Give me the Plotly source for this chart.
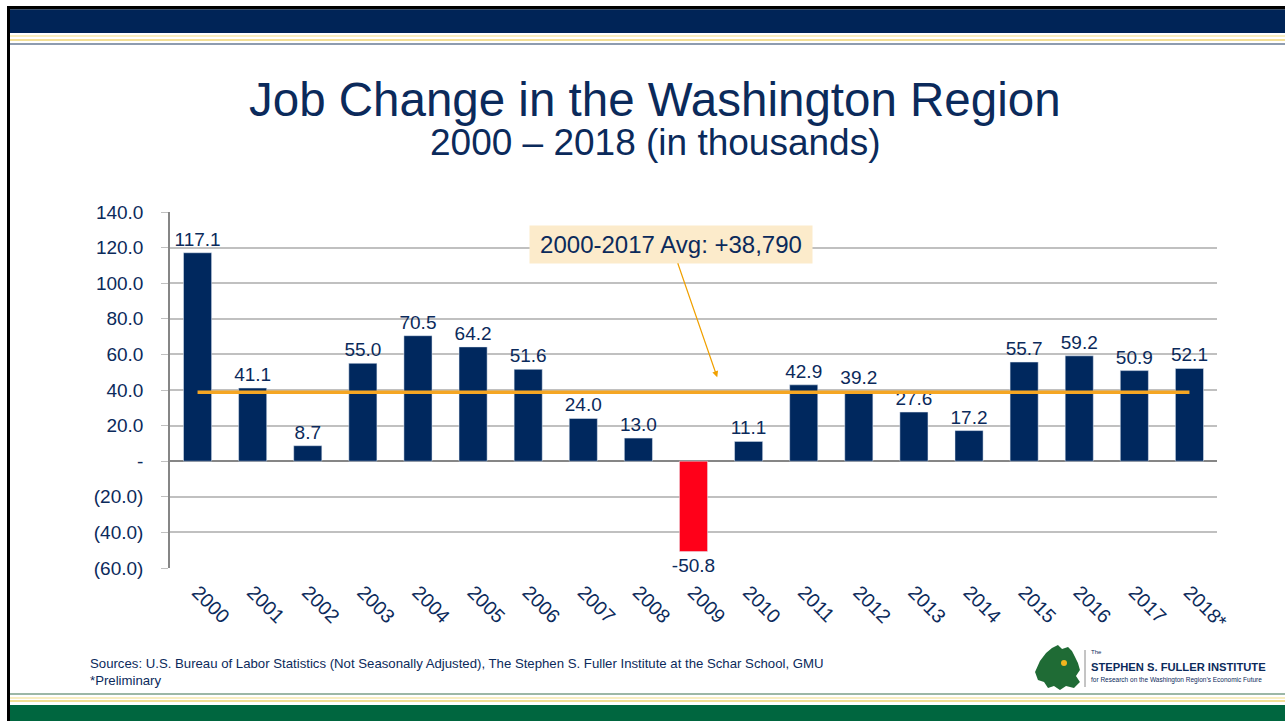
import plotly.graph_objects as go

years = ['2000', '2001', '2002', '2003', '2004', '2005', '2006', '2007', '2008', '2009',
         '2010', '2011', '2012', '2013', '2014', '2015', '2016', '2017', '2018*']
job_change = [117.1, 41.1, 8.7, 55.0, 70.5, 64.2, 51.6, 24.0, 13.0, -50.8,
              11.1, 42.9, 39.2, 27.6, 17.2, 55.7, 59.2, 50.9, 52.1]
avg_2000_2017 = 38.79
avg_label = '2000-2017 Avg: +38,790'
y_ticks = [-60, -40, -20, 0, 20, 40, 60, 80, 100, 120, 140]
y_tick_labels = ['(60.0)', '(40.0)', '(20.0)', '-', '20.0', '40.0', '60.0', '80.0', '100.0', '120.0', '140.0']

NAVY = '#0B2A5B'
BAR = '#00285E'
RED = '#FF0019'
ORANGE = '#F5A623'
FONT = 'Liberation Sans'

W, H = 1285, 721
L, R, T, B = 170, 1217, 212, 568


def fx(px):
    return (px - L) / (R - L)


def fy(py):
    return (B - py) / (B - T)


def band(x0, y0, x1, y1, color):
    return dict(type='rect', xref='paper', yref='paper', x0=fx(x0), x1=fx(x1),
                y0=fy(y0), y1=fy(y1), fillcolor=color, line_width=0, layer='below')


bar_colors = [RED if v < 0 else BAR for v in job_change]

fig = go.Figure()
fig.add_trace(go.Bar(x=years, y=job_change, marker_color=bar_colors, width=0.51,
                     text=job_change, texttemplate='%{y:.1f}', textposition='outside',
                     constraintext='none', cliponaxis=False,
                     textfont=dict(family=FONT, size=19, color=NAVY)))
fig.add_trace(go.Scatter(x=[years[0], years[-1]], y=[avg_2000_2017, avg_2000_2017], mode='lines',
                         line=dict(color=ORANGE, width=3.5)))

shapes = [
    band(7, 6, W, 9.5, 'black'),
    band(7, 9.5, W, 33, '#002457'),
    band(10, 35, W, 37, '#F8EDC0'),
    band(10, 39, W, 41, '#F3DF95'),
    band(10, 43, W, 45, '#8E9CAF'),
    band(7, 6, 10, H, 'black'),
    band(10, 693, W, 695, '#9CB7A6'),
    band(10, 697, W, 699, '#F8EDC0'),
    band(10, 700, W, 702, '#F3DF95'),
    band(10, 705, W, H, '#00663F'),
    dict(type='line', xref='paper', yref='paper', x0=fx(1085), x1=fx(1085), y0=fy(650), y1=fy(687),
         line=dict(color='#8A8A8A', width=1)),
]

blob = [(1035, 672), (1040, 661), (1046, 653), (1052, 648), (1058, 645), (1062, 649), (1068, 647),
        (1072, 651), (1075, 657), (1078, 663), (1080, 670), (1076, 676), (1080, 682), (1074, 688),
        (1066, 686), (1060, 690), (1054, 686), (1048, 688), (1044, 682), (1038, 680)]
path = 'M ' + ' L '.join('%.4f,%.4f' % (fx(a), fy(b)) for a, b in blob) + ' Z'
shapes.append(dict(type='path', xref='paper', yref='paper', path=path, fillcolor='#1F6B35', line_width=0))
shapes.append(dict(type='circle', xref='paper', yref='paper', x0=fx(1061), x1=fx(1067), y0=fy(660), y1=fy(666),
                   fillcolor='#F2B51E', line_width=0))

annotations = [
    dict(text='Job Change in the Washington Region', x=fx(655), y=fy(99), xref='paper', yref='paper',
         showarrow=False, xanchor='center', yanchor='middle', font=dict(family=FONT, size=47.5, color=NAVY)),
    dict(text='2000 – 2018 (in thousands)', x=fx(655), y=fy(143), xref='paper', yref='paper',
         showarrow=False, xanchor='center', yanchor='middle', font=dict(family=FONT, size=37, color=NAVY)),
    dict(text=avg_label, x=9.43, y=47.2, xref='x', yref='y', showarrow=True, ax=-46, ay=-133,
         arrowhead=2, arrowsize=1, arrowwidth=1.2, arrowcolor='#F0A000', width=282, height=37,
         bgcolor='#FCEBCB', borderpad=0, font=dict(family=FONT, size=24, color=NAVY)),
    dict(text='Sources: U.S. Bureau of Labor Statistics (Not Seasonally Adjusted), The Stephen S. Fuller Institute at the Schar School, GMU<br>*Preliminary',
         x=fx(88), y=fy(654), xref='paper', yref='paper', showarrow=False, xanchor='left', yanchor='top',
         align='left', font=dict(family=FONT, size=13.2, color=NAVY)),
    dict(text='The', x=fx(1089), y=fy(652), xref='paper', yref='paper', showarrow=False,
         xanchor='left', yanchor='middle', font=dict(family=FONT, size=6, color=NAVY)),
    dict(text='<b>STEPHEN S. FULLER INSTITUTE</b>', x=fx(1089), y=fy(667), xref='paper', yref='paper',
         showarrow=False, xanchor='left', yanchor='middle', font=dict(family=FONT, size=11.2, color=NAVY)),
    dict(text='for Research on the Washington Region’s Economic Future', x=fx(1089), y=fy(680), xref='paper',
         yref='paper', showarrow=False, xanchor='left', yanchor='middle', font=dict(family=FONT, size=6.5, color=NAVY)),
]

fig.update_layout(
    width=W, height=H, autosize=False, showlegend=False, bargap=0.49,
    margin=dict(l=L, r=W - R, t=T, b=H - B, pad=0),
    paper_bgcolor='white', plot_bgcolor='white',
    font=dict(family=FONT, color=NAVY),
    shapes=shapes, annotations=annotations,
    xaxis=dict(type='category', categoryorder='array', categoryarray=years, showgrid=False,
               showline=False, ticks='', tickangle=45, ticklabelstandoff=8,
               tickfont=dict(family=FONT, size=19.5, color=NAVY)),
    xaxis2=dict(overlaying='x', anchor='free', position=fy(461), range=[-0.5, 18.5], tick0=-0.5, dtick=1,
                showline=True, linecolor='#868686', linewidth=1.5, ticks='outside', ticklen=7,
                tickcolor='#868686', showticklabels=False, showgrid=False, zeroline=False),
    yaxis=dict(range=[-60, 140], tickvals=y_ticks, ticktext=y_tick_labels, showgrid=True,
               gridcolor='#C0C0C0', gridwidth=1.5, zeroline=True, zerolinecolor='#868686', zerolinewidth=1.5,
               showline=True, linecolor='#868686', linewidth=1.5, ticks='outside', ticklen=7,
               tickcolor='#C0C0C0', ticklabelstandoff=14, tickfont=dict(family=FONT, size=19, color=NAVY)),
)

# page body has an 8px default margin; drop it so the figure sits at the window origin
fig.write_html('out.html', config={'displayModeBar': False},
               post_script="document.body.style.margin='0px';")
